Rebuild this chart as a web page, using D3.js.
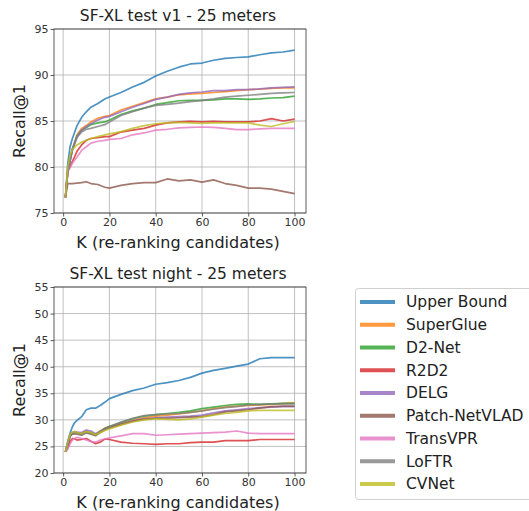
<!DOCTYPE html>
<html>
<head>
<meta charset="utf-8">
<script src="https://cdn.jsdelivr.net/npm/d3@7"></script>
<style>
body { margin: 0; background: #fff; }
svg { font-family: "DejaVu Sans", sans-serif; }
</style>
</head>
<body>
<svg id="chart" width="529" height="511"></svg>
<script>
var methods = ["Upper Bound", "SuperGlue", "D2-Net", "R2D2", "DELG", "Patch-NetVLAD", "TransVPR", "LoFTR", "CVNet"];
var colors = ["#1f77b4", "#ff7f0e", "#2ca02c", "#d62728", "#9467bd", "#8c564b", "#e377c2", "#7f7f7f", "#bcbd22"];

var xTicks = [0, 20, 40, 60, 80, 100];
var v1Ticks = [75, 80, 85, 90, 95];
var nightTicks = [20, 25, 30, 35, 40, 45, 50, 55];

// SF-XL test v1
var kV1 = [1, 2, 3, 4, 6, 8, 10, 12, 15, 18, 20, 25, 30, 35, 40, 45, 50, 55, 60, 65, 70, 75, 80, 85, 90, 95, 100];
var v1Upper = [76.7, 80.4, 82.2, 83.1, 84.5, 85.4, 86.0, 86.5, 86.9, 87.4, 87.6, 88.1, 88.7, 89.2, 89.9, 90.4, 90.85, 91.2, 91.3, 91.6, 91.8, 91.9, 91.97, 92.2, 92.4, 92.5, 92.7];
var v1SuperGlue = [76.7, 79.6, 80.9, 82.0, 83.5, 84.2, 84.5, 84.9, 85.3, 85.5, 85.6, 86.2, 86.6, 87.0, 87.4, 87.6, 87.85, 87.95, 88.0, 88.1, 88.2, 88.3, 88.4, 88.45, 88.55, 88.6, 88.6];
var v1D2Net = [76.7, 79.5, 80.7, 81.9, 83.4, 84.0, 84.3, 84.6, 84.8, 84.9, 85.1, 85.7, 86.1, 86.4, 86.8, 87.0, 87.2, 87.25, 87.25, 87.3, 87.4, 87.4, 87.35, 87.4, 87.5, 87.55, 87.7];
var v1R2D2 = [76.7, 79.5, 80.1, 80.6, 81.7, 82.4, 82.9, 83.1, 83.2, 83.3, 83.3, 83.8, 84.0, 84.2, 84.55, 84.8, 84.9, 84.95, 84.9, 84.95, 84.9, 84.9, 84.9, 85.0, 85.25, 85.0, 85.2];
var v1DELG = [76.7, 79.5, 80.7, 81.9, 83.3, 84.0, 84.4, 84.7, 85.1, 85.4, 85.5, 86.0, 86.5, 86.9, 87.35, 87.6, 87.9, 88.05, 88.15, 88.3, 88.3, 88.4, 88.4, 88.5, 88.6, 88.65, 88.7];
var v1PatchNetVLAD = [76.7, 78.2, 78.2, 78.2, 78.25, 78.3, 78.4, 78.2, 78.1, 77.8, 77.7, 78.0, 78.2, 78.3, 78.3, 78.7, 78.5, 78.6, 78.35, 78.6, 78.2, 78.0, 77.7, 77.7, 77.6, 77.35, 77.1];
var v1TransVPR = [76.7, 79.6, 79.9, 80.4, 81.1, 81.8, 82.2, 82.6, 82.8, 82.9, 83.0, 83.1, 83.5, 83.7, 84.0, 84.1, 84.25, 84.3, 84.35, 84.3, 84.2, 84.06, 84.06, 84.15, 84.2, 84.2, 84.2];
var v1LoFTR = [76.7, 79.4, 80.6, 81.8, 83.2, 83.8, 84.1, 84.2, 84.4, 84.6, 84.9, 85.6, 86.0, 86.4, 86.7, 86.8, 86.95, 87.1, 87.25, 87.4, 87.6, 87.7, 87.8, 87.9, 88.0, 88.05, 88.1];
var v1CVNet = [76.7, 80.0, 81.3, 81.9, 82.4, 82.7, 82.9, 83.1, 83.3, 83.5, 83.6, 83.85, 84.2, 84.5, 84.7, 84.8, 84.85, 84.8, 84.75, 84.8, 84.8, 84.8, 84.8, 84.55, 84.4, 84.7, 84.95];

// SF-XL test night
var kNight = [1, 2, 3, 4, 5, 6, 8, 10, 12, 14, 16, 18, 20, 25, 30, 35, 40, 45, 50, 55, 60, 65, 70, 75, 80, 85, 90, 95, 100];
var nightUpper = [24.0, 26.0, 27.5, 28.7, 29.5, 29.9, 30.6, 31.9, 32.2, 32.2, 32.7, 33.3, 34.0, 34.8, 35.5, 36.0, 36.7, 37.0, 37.4, 38.0, 38.8, 39.3, 39.7, 40.1, 40.5, 41.5, 41.7, 41.7, 41.7];
var nightSuperGlue = [24.0, 25.5, 27.0, 27.4, 27.6, 27.6, 27.4, 27.9, 27.5, 27.3, 27.9, 28.4, 28.7, 29.3, 29.9, 30.4, 30.7, 30.9, 31.1, 31.4, 31.7, 32.1, 32.4, 32.6, 32.7, 32.8, 32.9, 33.1, 33.2];
var nightD2Net = [24.0, 25.6, 27.2, 27.5, 27.6, 27.5, 27.3, 27.7, 27.6, 27.2, 27.8, 28.4, 28.8, 29.5, 30.2, 30.7, 31.0, 31.2, 31.4, 31.7, 32.1, 32.4, 32.7, 32.9, 33.0, 32.9, 33.0, 33.1, 33.1];
var nightR2D2 = [24.0, 24.8, 26.0, 26.5, 26.4, 26.2, 26.3, 26.5, 26.0, 25.5, 25.8, 26.4, 26.3, 25.8, 25.6, 25.5, 25.4, 25.5, 25.5, 25.7, 25.8, 25.8, 26.1, 26.1, 26.1, 26.3, 26.3, 26.3, 26.3];
var nightDELG = [24.0, 25.5, 27.2, 27.6, 27.8, 27.7, 27.6, 28.1, 27.9, 27.4, 27.8, 28.3, 28.6, 29.2, 29.8, 30.2, 30.4, 30.5, 30.6, 30.7, 30.9, 31.3, 31.7, 31.9, 32.1, 32.3, 32.4, 32.5, 32.5];
var nightPatchNetVLAD = [24.0, 25.3, 26.9, 27.3, 27.4, 27.3, 27.1, 27.6, 27.3, 27.0, 27.6, 28.1, 28.5, 29.1, 29.7, 30.1, 30.3, 30.3, 30.4, 30.5, 30.6, 31.0, 31.5, 31.7, 31.9, 32.2, 32.5, 32.6, 32.6];
var nightTransVPR = [24.0, 24.5, 25.5, 26.2, 26.5, 26.7, 26.5, 26.2, 25.9, 25.8, 26.2, 26.4, 26.6, 27.0, 27.4, 27.4, 27.1, 27.2, 27.3, 27.4, 27.5, 27.6, 27.7, 27.9, 27.5, 27.4, 27.4, 27.4, 27.4];
var nightLoFTR = [24.0, 25.4, 27.0, 27.4, 27.5, 27.4, 27.2, 27.6, 27.4, 27.1, 27.7, 28.3, 28.7, 29.6, 30.3, 30.8, 31.0, 31.1, 31.2, 31.4, 31.7, 32.0, 32.3, 32.5, 32.8, 32.9, 33.0, 33.0, 33.0];
var nightCVNet = [24.0, 25.8, 27.3, 27.7, 27.8, 27.6, 27.4, 27.8, 27.6, 27.2, 27.6, 28.0, 28.3, 29.0, 29.6, 30.0, 30.2, 30.1, 30.0, 30.2, 30.5, 30.9, 31.2, 31.4, 31.7, 31.8, 31.8, 31.8, 31.8];

var v1Series = [v1Upper, v1SuperGlue, v1D2Net, v1R2D2, v1DELG, v1PatchNetVLAD, v1TransVPR, v1LoFTR, v1CVNet];
var nightSeries = [nightUpper, nightSuperGlue, nightD2Net, nightR2D2, nightDELG, nightPatchNetVLAD, nightTransVPR, nightLoFTR, nightCVNet];

var svg = d3.select("#chart");

function drawPanel(opts) {
    var x = d3.scaleLinear().domain([-3.95, 104.95]).range([opts.left, opts.right]);
    var y = d3.scaleLinear().domain(opts.yDomain).range([opts.bottom, opts.top]);
    var g = svg.append("g");

    // grid
    g.selectAll(".vgrid").data(xTicks).enter().append("line")
        .attr("x1", function(d) { return x(d); })
        .attr("x2", function(d) { return x(d); })
        .attr("y1", opts.top)
        .attr("y2", opts.bottom)
        .attr("stroke", "#b0b0b0")
        .attr("stroke-width", 0.8);
    g.selectAll(".hgrid").data(opts.yTicks).enter().append("line")
        .attr("x1", opts.left)
        .attr("x2", opts.right)
        .attr("y1", function(d) { return y(d); })
        .attr("y2", function(d) { return y(d); })
        .attr("stroke", "#b0b0b0")
        .attr("stroke-width", 0.8);

    var clip = "clip" + opts.id;
    svg.append("clipPath").attr("id", clip).append("rect")
        .attr("x", opts.left).attr("y", opts.top)
        .attr("width", opts.right - opts.left).attr("height", opts.bottom - opts.top);

    var line = d3.line()
        .x(function(d) { return x(d[0]); })
        .y(function(d) { return y(d[1]); });

    opts.series.forEach(function(vals, i) {
        var pts = opts.k.map(function(k, j) { return [k, vals[j]]; });
        g.append("path")
            .datum(pts)
            .attr("clip-path", "url(#" + clip + ")")
            .attr("fill", "none")
            .attr("stroke", colors[i])
            .attr("stroke-opacity", 0.8)
            .attr("stroke-width", 1.7)
            .attr("stroke-linejoin", "round")
            .attr("d", line);
    });

    var xAxis = d3.axisBottom(x).tickValues(xTicks).tickSize(3.5).tickPadding(2);
    var yAxis = d3.axisLeft(y).tickValues(opts.yTicks).tickSize(3.5).tickPadding(2);

    var gx = g.append("g").attr("transform", "translate(0," + opts.bottom + ")").call(xAxis);
    var gy = g.append("g").attr("transform", "translate(" + opts.left + ",0)").call(yAxis);
    [gx, gy].forEach(function(a) {
        a.select(".domain").remove();
        a.selectAll("line").attr("stroke", "#333").attr("stroke-width", 0.8);
        a.selectAll("text").attr("fill", "#333").style("font-size", "11px").style("font-family", "DejaVu Sans");
    });

    g.append("rect")
        .attr("x", opts.left).attr("y", opts.top)
        .attr("width", opts.right - opts.left).attr("height", opts.bottom - opts.top)
        .attr("fill", "none")
        .attr("stroke", "#333")
        .attr("stroke-width", 0.8);

    g.append("text")
        .attr("x", (opts.left + opts.right) / 2 - 2)
        .attr("y", opts.top - 8)
        .attr("text-anchor", "middle")
        .attr("fill", "#222")
        .style("font-size", "15.5px")
        .text(opts.title);

    g.append("text")
        .attr("x", (opts.left + opts.right) / 2 - 2)
        .attr("y", opts.bottom + 35)
        .attr("text-anchor", "middle")
        .attr("fill", "#222")
        .style("font-size", "16px")
        .text("K (re-ranking candidates)");

    g.append("text")
        .attr("transform", "translate(" + (opts.left - 29) + "," + ((opts.top + opts.bottom) / 2) + ") rotate(-90)")
        .attr("text-anchor", "middle")
        .attr("fill", "#222")
        .style("font-size", "16px")
        .text("Recall@1");
}

drawPanel({
    id: "v1", left: 54, right: 306, top: 29, bottom: 213,
    yDomain: [75, 95], yTicks: v1Ticks,
    k: kV1, series: v1Series,
    title: "SF-XL test v1 - 25 meters"
});

drawPanel({
    id: "night", left: 54, right: 306, top: 287, bottom: 473,
    yDomain: [20, 55], yTicks: nightTicks,
    k: kNight, series: nightSeries,
    title: "SF-XL test night - 25 meters"
});

// legend
var legend = svg.append("g");
legend.append("rect")
    .attr("x", 355.5).attr("y", 288.5)
    .attr("width", 180).attr("height", 211)
    .attr("rx", 3)
    .attr("fill", "#fff")
    .attr("stroke", "#d0d0d0");

var rowY = d3.scalePoint().domain(methods).range([302, 484]);

legend.selectAll(".lline").data(methods).enter().append("line")
    .attr("x1", 360).attr("x2", 395)
    .attr("y1", function(d) { return rowY(d); })
    .attr("y2", function(d) { return rowY(d); })
    .attr("stroke", function(d, i) { return colors[i]; })
    .attr("stroke-opacity", 0.8)
    .attr("stroke-width", 4);

legend.selectAll(".ltext").data(methods).enter().append("text")
    .attr("x", 406)
    .attr("y", function(d) { return rowY(d); })
    .attr("dy", "0.35em")
    .attr("fill", "#222")
    .style("font-size", "15.5px")
    .text(function(d) { return d; });
</script>
</body>
</html>
